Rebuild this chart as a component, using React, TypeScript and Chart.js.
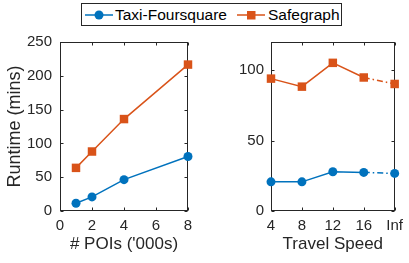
import React, { useEffect, useRef } from "react";
import { Chart, registerables } from "chart.js";

Chart.register(...registerables);

const poiX = [1, 2, 4, 8];
const poiTaxi = [11.4, 20.8, 46.4, 80.6];
const poiSafe = [63.8, 88, 136, 216.6];

const speedLabels = ["4", "8", "12", "16", "Inf"];
const speedTaxi = [20.7, 20.7, 27.9, 27.4, 26.7];
const speedSafe = [94, 88.3, 105.2, 94.8, 90.2];

const seriesNames = ["Taxi-Foursquare", "Safegraph"];
const BLUE = "#0072BD";
const ORANGE = "#D95319";
const AXIS = "#262626";
const FONT = "'Liberation Sans', Arial, Helvetica, sans-serif";

const boxPlugin = {
  id: "matlabBox",
  beforeDatasetsDraw(chart: any) {
    const { ctx, chartArea } = chart;
    const { left, right, top, bottom } = chartArea;
    ctx.save();
    ctx.strokeStyle = AXIS;
    ctx.lineWidth = 1;
    const L = Math.round(left) + 0.5;
    const R = Math.round(right) - 0.5;
    const T = Math.round(top) + 0.5;
    const B = Math.round(bottom) - 0.5;
    ctx.strokeRect(L, T, R - L, B - T);
    const xs = chart.scales.x;
    const ys = chart.scales.y;
    const tl = 3;
    ctx.beginPath();
    xs.ticks.forEach((_: any, i: number) => {
      const px = Math.round(xs.getPixelForTick(i)) + 0.5;
      ctx.moveTo(px, B);
      ctx.lineTo(px, B - tl);
      ctx.moveTo(px, T);
      ctx.lineTo(px, T + tl);
    });
    ys.ticks.forEach((_: any, i: number) => {
      const py = Math.round(ys.getPixelForTick(i)) + 0.5;
      ctx.moveTo(L, py);
      ctx.lineTo(L + tl, py);
      ctx.moveTo(R, py);
      ctx.lineTo(R - tl, py);
    });
    ctx.stroke();
    ctx.restore();
  },
};

function makeDatasets(taxi: any[], safe: any[], dashLast: boolean) {
  const seg = dashLast
    ? {
        borderDash: (c: any) =>
          c.p0DataIndex === taxi.length - 2 ? [6, 3, 1.5, 3] : undefined,
      }
    : undefined;
  return [
    {
      label: seriesNames[0],
      data: taxi,
      borderColor: BLUE,
      backgroundColor: BLUE,
      borderWidth: 1.5,
      pointStyle: "circle",
      pointRadius: 4.5,
      pointBorderWidth: 0,
      clip: false,
      tension: 0,
      segment: seg,
    },
    {
      label: seriesNames[1],
      data: safe,
      borderColor: ORANGE,
      backgroundColor: ORANGE,
      borderWidth: 1.5,
      pointStyle: "rect",
      pointRadius: 6,
      pointBorderWidth: 0,
      clip: false,
      tension: 0,
      segment: seg,
    },
  ];
}

const tickFont = { family: FONT, size: 15 };
const titleFont = { family: FONT, size: 17 };
const yTitleFont = { family: FONT, size: 18 };
const noGrid = { display: false, drawTicks: false };

export default function App() {
  const leftRef = useRef<HTMLCanvasElement>(null);
  const rightRef = useRef<HTMLCanvasElement>(null);

  useEffect(() => {
    document.body.style.margin = "0";
    const left = new Chart(leftRef.current!, {
      type: "line",
      data: {
        datasets: makeDatasets(
          poiX.map((x, i) => ({ x, y: poiTaxi[i] })),
          poiX.map((x, i) => ({ x, y: poiSafe[i] })),
          false
        ) as any,
      },
      options: {
        animation: false,
        responsive: false,
        layout: { padding: { left: 0, top: 42, right: 17, bottom: 0 } },
        plugins: { legend: { display: false }, tooltip: { enabled: false } },
        scales: {
          x: {
            type: "linear",
            min: 0,
            max: 8,
            grid: noGrid,
            border: { display: false },
            ticks: { stepSize: 2, font: tickFont, color: AXIS, padding: 6, maxRotation: 0 },
            title: { display: true, text: "# POIs ('000s)", font: titleFont, color: AXIS, padding: { top: 0, bottom: 8 } },
            afterFit: (s: any) => { s.height = 52; },
          },
          y: {
            type: "linear",
            min: 0,
            max: 250,
            grid: noGrid,
            border: { display: false },
            ticks: { stepSize: 50, font: tickFont, color: AXIS, padding: 8 },
            title: { display: true, text: "Runtime (mins)", font: yTitleFont, color: AXIS, padding: { top: 4, bottom: 0 } },
            afterFit: (s: any) => { s.width = 60; },
          },
        },
      },
      plugins: [boxPlugin],
    } as any);

    const right = new Chart(rightRef.current!, {
      type: "line",
      data: {
        labels: speedLabels,
        datasets: makeDatasets(speedTaxi, speedSafe, true) as any,
      },
      options: {
        animation: false,
        responsive: false,
        layout: { padding: { left: 0, top: 42, right: 10, bottom: 0 } },
        plugins: { legend: { display: false }, tooltip: { enabled: false } },
        scales: {
          x: {
            type: "category",
            offset: false,
            grid: noGrid,
            border: { display: false },
            ticks: { font: tickFont, color: AXIS, padding: 6, maxRotation: 0, autoSkip: false },
            title: { display: true, text: "Travel Speed", font: titleFont, color: AXIS, padding: { top: 0, bottom: 8 } },
            afterFit: (s: any) => { s.height = 52; },
          },
          y: {
            type: "linear",
            min: 0,
            max: 120,
            grid: noGrid,
            border: { display: false },
            ticks: { stepSize: 50, includeBounds: false, font: tickFont, color: AXIS, padding: 7 },
            afterFit: (s: any) => { s.width = 66; },
          },
        },
      },
      plugins: [boxPlugin],
    } as any);

    return () => {
      left.destroy();
      right.destroy();
    };
  }, []);

  const legendText: React.CSSProperties = {
    position: "absolute",
    top: 0,
    fontFamily: FONT,
    fontSize: 15.5,
    lineHeight: "21px",
    color: "#000",
    whiteSpace: "nowrap",
  };

  return (
    <div style={{ position: "fixed", left: 0, top: 0, width: 409, height: 263, background: "#fff" }}>
      <canvas ref={leftRef} width={205} height={263} style={{ position: "absolute", left: 0, top: 0, width: 205, height: 263 }} />
      <canvas ref={rightRef} width={204} height={263} style={{ position: "absolute", left: 205, top: 0, width: 204, height: 263 }} />
      <div
        style={{
          position: "absolute",
          left: 81,
          top: 3,
          width: 259,
          height: 21,
          border: `1px solid ${AXIS}`,
          background: "#fff",
        }}
      >
        <svg width={259} height={21} style={{ position: "absolute", left: 0, top: 0 }}>
          <line x1={3} y1={11} x2={31} y2={11} stroke={BLUE} strokeWidth={1.5} />
          <circle cx={17} cy={11} r={4.5} fill={BLUE} />
          <line x1={155} y1={11} x2={183} y2={11} stroke={ORANGE} strokeWidth={1.5} />
          <rect x={165} y={7} width={8.5} height={8.5} fill={ORANGE} />
        </svg>
        <span style={{ ...legendText, left: 33 }}>{seriesNames[0]}</span>
        <span style={{ ...legendText, left: 186 }}>{seriesNames[1]}</span>
      </div>
    </div>
  );
}
